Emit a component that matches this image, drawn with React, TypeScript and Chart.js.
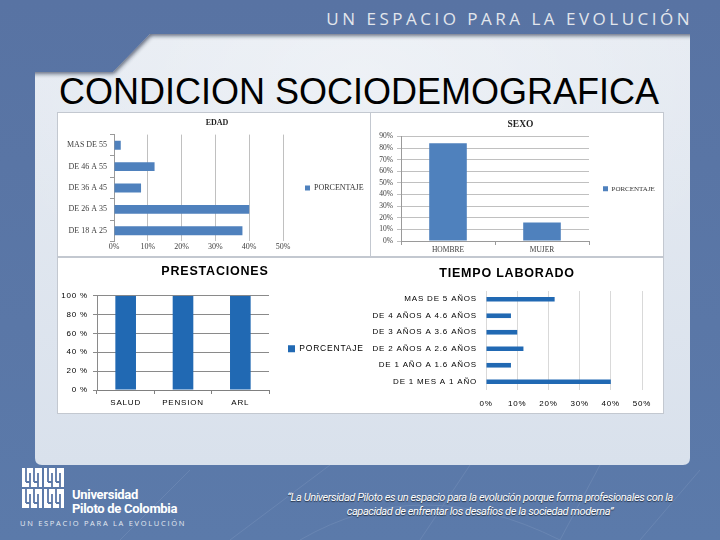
import React, { useEffect, useRef } from "react";
import { Chart, registerables } from "chart.js";

Chart.register(...registerables);

// ---------- data ----------
const seriesName = "PORCENTAJE";

const edadLabels = ["MAS DE 55", "DE 46 A 55", "DE 36 A 45", "DE 26 A 35", "DE 18 A 25"];
const edadValues = [2, 12, 8, 40, 38];
const edadAxis = { min: 0, max: 50, step: 10 };

const sexoLabels = ["HOMBRE", "MUJER"];
const sexoValues = [84, 16];
const sexoAxis = { min: 0, max: 90, step: 10 };

const prestLabels = ["SALUD", "PENSION", "ARL"];
const prestValues = [100, 100, 100];
const prestAxis = { min: 0, max: 100, step: 20 };

const tiempoLabels = [
  "MAS DE 5 AÑOS",
  "DE 4 AÑOS A 4.6 AÑOS",
  "DE 3 AÑOS A 3.6 AÑOS",
  "DE 2 AÑOS A 2.6 AÑOS",
  "DE 1 AÑO A 1.6 AÑOS",
  "DE 1 MES A 1 AÑO",
];
const tiempoValues = [22, 8, 10, 12, 8, 40];
const tiempoAxis = { min: 0, max: 50, step: 10 };

const serif = "'Liberation Serif', 'Times New Roman', serif";
const sans = "'Liberation Sans', Arial, sans-serif";

const spacingPlugin = (px: string) => ({
  id: "letterSpacing",
  beforeLayout(chart: any) {
    (chart.ctx as any).letterSpacing = px;
  },
  beforeDraw(chart: any) {
    (chart.ctx as any).letterSpacing = px;
  },
});

export default function App() {
  const r1 = useRef<HTMLCanvasElement>(null);
  const r2 = useRef<HTMLCanvasElement>(null);
  const r3 = useRef<HTMLCanvasElement>(null);
  const r4 = useRef<HTMLCanvasElement>(null);

  useEffect(() => {
    document.body.style.margin = "0";
    const charts: Chart[] = [];

    // EDAD
    charts.push(
      new Chart(r1.current!, {
        type: "bar",
        data: {
          labels: edadLabels,
          datasets: [
            {
              label: seriesName,
              data: edadValues,
              backgroundColor: "#4f81bd",
              categoryPercentage: 0.8,
              barPercentage: 0.52,
            },
          ],
        },
        options: {
          indexAxis: "y",
          responsive: false,
          animation: false,
          layout: { padding: { top: 3, left: 6, right: 0, bottom: 3 } },
          plugins: {
            title: {
              display: true,
              text: "EDAD",
              color: "#1f1f1f",
              font: { family: serif, size: 8, weight: "bold" },
              padding: { top: 2, bottom: 7 },
            },
            legend: {
              position: "right",
              fullSize: false,
              maxWidth: 87,
              labels: {
                boxWidth: 5,
                boxHeight: 5,
                padding: 22,
                color: "#333",
                font: { family: serif, size: 8 },
              },
            },
            tooltip: { enabled: false },
          },
          scales: {
            x: {
              min: edadAxis.min,
              max: edadAxis.max,
              ticks: {
                stepSize: edadAxis.step,
                padding: 1,
                color: "#404040",
                font: { family: serif, size: 8 },
                callback: (v: any) => v + "%",
              },
              grid: { color: "#c0c0c0", drawTicks: false },
              border: { display: false },
            },
            y: {
              ticks: { color: "#404040", font: { family: serif, size: 8 }, padding: 3 },
              grid: { drawOnChartArea: false, tickLength: 4, color: "#9a9a9a" },
              border: { color: "#9a9a9a" },
            },
          },
        },
      } as any)
    );

    // SEXO
    charts.push(
      new Chart(r2.current!, {
        type: "bar",
        data: {
          labels: sexoLabels,
          datasets: [
            {
              label: seriesName,
              data: sexoValues,
              backgroundColor: "#4f81bd",
              categoryPercentage: 0.8,
              barPercentage: 0.5,
            },
          ],
        },
        options: {
          responsive: false,
          animation: false,
          layout: { padding: { top: 4, left: 6, right: 0, bottom: 0 } },
          plugins: {
            title: {
              display: true,
              text: "SEXO",
              color: "#1f1f1f",
              font: { family: serif, size: 9.5, weight: "bold" },
              padding: { top: 2, bottom: 6 },
            },
            legend: {
              position: "right",
              fullSize: false,
              maxWidth: 74,
              labels: {
                boxWidth: 5,
                boxHeight: 5,
                padding: 14,
                color: "#333",
                font: { family: serif, size: 7 },
              },
            },
            tooltip: { enabled: false },
          },
          scales: {
            x: {
              ticks: { color: "#404040", font: { family: serif, size: 7.5 }, padding: 1 },
              grid: { drawOnChartArea: false, tickLength: 4, color: "#9a9a9a" },
              border: { color: "#9a9a9a" },
            },
            y: {
              min: sexoAxis.min,
              max: sexoAxis.max,
              afterFit: (s: any) => {
                s.width = 23;
              },
              ticks: {
                stepSize: sexoAxis.step,
                autoSkip: false,
                color: "#404040",
                font: { family: serif, size: 7.5 },
                padding: 4,
                callback: (v: any) => v + "%",
              },
              grid: { color: "#c0c0c0", tickLength: 4 },
              border: { color: "#9a9a9a" },
            },
          },
        },
      } as any)
    );

    // PRESTACIONES
    charts.push(
      new Chart(r3.current!, {
        type: "bar",
        data: {
          labels: prestLabels,
          datasets: [
            {
              label: seriesName,
              data: prestValues,
              backgroundColor: "#2169b3",
              categoryPercentage: 0.8,
              barPercentage: 0.45,
            },
          ],
        },
        options: {
          responsive: false,
          animation: false,
          layout: { padding: { top: 6, left: 2, right: 0, bottom: 5 } },
          plugins: {
            title: {
              display: true,
              text: "PRESTACIONES",
              color: "#000",
              font: { family: sans, size: 12.5, weight: "bold" },
              padding: { top: 0, bottom: 16.7 },
            },
            legend: {
              position: "right",
              fullSize: false,
              maxWidth: 101,
              title: { display: true, text: "", font: { size: 8 }, padding: 1 },
              labels: {
                boxWidth: 7,
                boxHeight: 7,
                padding: 19,
                color: "#000",
                font: { family: sans, size: 8.5 },
              },
            },
            tooltip: { enabled: false },
          },
          scales: {
            x: {
              afterFit: (s: any) => {
                s.height = 18;
              },
              ticks: { color: "#000", font: { family: sans, size: 8 }, padding: 4 },
              grid: { drawOnChartArea: false, tickLength: 4, color: "#808080" },
              border: { color: "#808080" },
            },
            y: {
              min: prestAxis.min,
              max: prestAxis.max,
              afterFit: (s: any) => {
                s.width = 37;
              },
              ticks: {
                stepSize: prestAxis.step,
                autoSkip: false,
                color: "#000",
                font: { family: sans, size: 8 },
                padding: 5,
                callback: (v: any) => v + " %",
              },
              grid: { color: "#8a8a8a", tickLength: 4 },
              border: { color: "#8a8a8a" },
            },
          },
        },
        plugins: [spacingPlugin("0.8px")],
      } as any)
    );

    // TIEMPO LABORADO
    charts.push(
      new Chart(r4.current!, {
        type: "bar",
        data: {
          labels: tiempoLabels,
          datasets: [
            {
              label: seriesName,
              data: tiempoValues,
              backgroundColor: "#2169b3",
              categoryPercentage: 0.8,
              barPercentage: 0.35,
            },
          ],
        },
        options: {
          indexAxis: "y",
          responsive: false,
          animation: false,
          layout: { padding: { top: 8, left: 2, right: 21, bottom: 4 } },
          plugins: {
            title: {
              display: true,
              text: "TIEMPO LABORADO",
              color: "#000",
              font: { family: sans, size: 12.5, weight: "bold" },
              padding: { top: 0, bottom: 10 },
            },
            legend: { display: false },
            tooltip: { enabled: false },
          },
          scales: {
            x: {
              min: tiempoAxis.min,
              max: tiempoAxis.max,
              afterFit: (s: any) => {
                s.height = 19;
              },
              ticks: {
                stepSize: tiempoAxis.step,
                color: "#000",
                font: { family: sans, size: 8 },
                padding: 9,
                callback: (v: any) => v + "%",
              },
              grid: { color: "#d9d9d9", drawTicks: false },
              border: { display: false },
            },
            y: {
              afterFit: (s: any) => {
                s.width = 114;
              },
              ticks: { color: "#000", font: { family: sans, size: 8 }, padding: 9 },
              grid: { display: false, drawTicks: false },
              border: { display: false },
            },
          },
        },
        plugins: [spacingPlugin("0.8px")],
      } as any)
    );

    return () => charts.forEach((c) => c.destroy());
  }, []);

  const panelPath =
    "M35 72 L113 72 L150 34 L690 34 L690 458 Q690 465 683 465 L42 465 Q35 465 35 458 Z";

  const abs = (l: number, t: number, w: number, h: number): React.CSSProperties => ({
    position: "absolute",
    left: l,
    top: t,
    width: w,
    height: h,
  });

  return (
    <div style={{ position: "absolute", left: 0, top: 0, width: 720, height: 540, overflow: "hidden" }}>
      <svg width={720} height={540} style={{ position: "absolute", left: 0, top: 0 }}>
        <defs>
          <linearGradient id="bg" x1="0" y1="0" x2="0" y2="1">
            <stop offset="0" stopColor="#5873a3" />
            <stop offset="0.6" stopColor="#5a77a7" />
            <stop offset="1" stopColor="#5b7aaa" />
          </linearGradient>
          <linearGradient id="panel" x1="0" y1="0" x2="0" y2="1">
            <stop offset="0" stopColor="#e6ebf2" />
            <stop offset="1" stopColor="#d9e1ec" />
          </linearGradient>
          <radialGradient id="glow" cx="0.5" cy="0.1" r="0.6">
            <stop offset="0" stopColor="#ffffff" stopOpacity="0.35" />
            <stop offset="1" stopColor="#ffffff" stopOpacity="0" />
          </radialGradient>
          <filter id="blur" x="-10%" y="-50%" width="120%" height="200%">
            <feGaussianBlur stdDeviation="2" />
          </filter>
          <clipPath id="pclip">
            <path d={panelPath} />
          </clipPath>
        </defs>
        <rect width={720} height={540} fill="url(#bg)" />
        <g opacity="0.12" stroke="#c9d6ea" strokeWidth="1" fill="none">
          <path d="M230 540 L330 465" />
          <path d="M420 540 L470 465" />
          <path d="M560 540 L600 465" />
          <path d="M640 540 L700 470" />
          <path d="M120 540 L190 470" />
          <path d="M300 540 Q420 470 560 540" />
        </g>
        <path d={panelPath} fill="url(#panel)" />
        <path d={panelPath} fill="url(#glow)" />
        <g clipPath="url(#pclip)">
          <path
            d="M0 71 L113 71 L150 33 L720 33"
            stroke="#1b2740"
            strokeWidth="5"
            fill="none"
            filter="url(#blur)"
            opacity="0.75"
          />
          <path d="M33 0 L33 540" stroke="#1b2740" strokeWidth="3" filter="url(#blur)" opacity="0.35" />
        </g>
        {/* logo */}
        <g transform="translate(22,468)">
          {[
            [0, 0],
            [22, 0],
            [0, 21],
            [22, 21],
          ].map(([x, y], i) => (
            <g key={i} transform={`translate(${x},${y})`}>
              <rect width={20} height={19} fill="#ffffff" />
              <path
                d="M4 0 V14 M8 5 V19 M12 0 V14 M16 5 V19 M4 14 H8 M12 14 H16"
                stroke="#5a77a7"
                strokeWidth={1.8}
                fill="none"
              />
            </g>
          ))}
        </g>
      </svg>

      {/* header tagline */}
      <div
        style={{
          position: "absolute",
          right: 27,
          top: 9,
          fontFamily: "'Open Sans', sans-serif",
          fontSize: 17,
          lineHeight: "20px",
          letterSpacing: 3.5,
          color: "#e2e6ec",
          whiteSpace: "nowrap",
        }}
      >
        UN ESPACIO PARA LA EVOLUCIÓN
      </div>

      {/* slide title */}
      <div
        style={{
          position: "absolute",
          left: 59,
          top: 73.5,
          fontFamily: sans,
          fontSize: 36,
          lineHeight: "36px",
          color: "#000",
          whiteSpace: "nowrap",
        }}
      >
        CONDICION SOCIODEMOGRAFICA
      </div>

      {/* chart backgrounds */}
      <div style={{ ...abs(57, 112, 607, 145), background: "#fff", boxSizing: "border-box", border: "1px solid #c3c8d0" }} />
      <div style={{ ...abs(370, 112, 1, 145), background: "#c3c8d0" }} />
      <div style={{ ...abs(57, 257, 607, 157), background: "#fff", boxSizing: "border-box", border: "1px solid #c3c8d0" }} />

      <canvas ref={r1} width={312} height={143} style={abs(58, 113, 312, 143)} />
      <canvas ref={r2} width={291} height={143} style={abs(372, 113, 291, 143)} />
      <canvas ref={r3} width={312} height={155} style={abs(58, 258, 312, 155)} />
      <canvas ref={r4} width={293} height={155} style={abs(370, 258, 293, 155)} />

      {/* footer */}
      <div
        style={{
          position: "absolute",
          left: 72,
          top: 488,
          fontFamily: "Roboto, sans-serif",
          fontWeight: 700,
          fontSize: 13,
          lineHeight: "14px",
          letterSpacing: -0.3,
          color: "#fff",
          whiteSpace: "nowrap",
        }}
      >
        Universidad
        <br />
        Piloto de Colombia
      </div>
      <div
        style={{
          position: "absolute",
          left: 20,
          top: 518,
          fontFamily: "'Open Sans', sans-serif",
          fontSize: 7.5,
          lineHeight: "10px",
          letterSpacing: 1.7,
          color: "#e3e9f1",
          whiteSpace: "nowrap",
        }}
      >
        UN ESPACIO PARA LA EVOLUCIÓN
      </div>
      <div
        style={{
          position: "absolute",
          left: 260,
          top: 491,
          width: 440,
          textAlign: "center",
          fontFamily: "Roboto, sans-serif",
          fontStyle: "italic",
          fontSize: 11,
          lineHeight: "14px",
          letterSpacing: -0.4,
          color: "#fff",
          textShadow: "0 1px 1px rgba(0,0,0,0.6)",
        }}
      >
        “La Universidad Piloto es un espacio para la evolución porque forma profesionales con la
        <br />
        capacidad de enfrentar los desafíos de la sociedad moderna”
      </div>
    </div>
  );
}
